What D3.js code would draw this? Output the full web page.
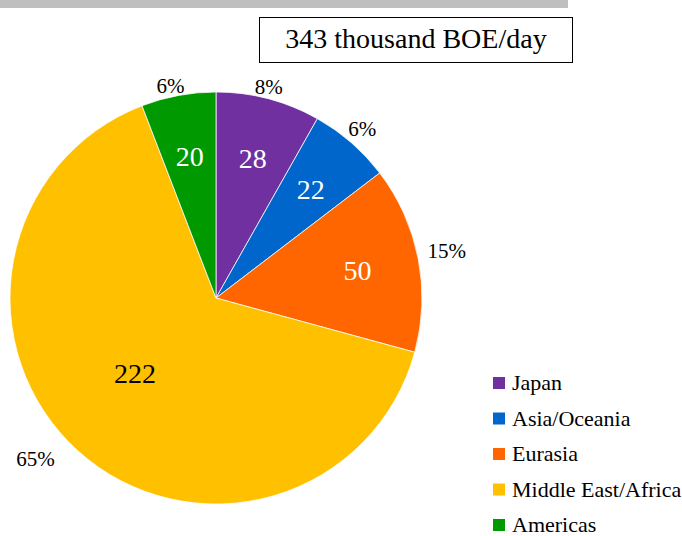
<!DOCTYPE html>
<html>
<head>
<meta charset="utf-8">
<script src="https://cdn.jsdelivr.net/npm/d3@7"></script>
<style>
  body { margin: 0; background: #fff; }
</style>
</head>
<body>
<div id="chart"></div>
<script>
// data
const regions = ["Japan", "Asia/Oceania", "Eurasia", "Middle East/Africa", "Americas"]
const volumes = [28, 22, 50, 222, 20]
const shares = ["8%", "6%", "15%", "65%", "6%"]
const colours = ["#7030A0", "#0066CC", "#FF6600", "#FFC000", "#009900"]
const title = "343 thousand BOE/day"

const FONT = 'Liberation Serif'
const W = 682, H = 536
const svg = d3.select('#chart').append('svg')
    .attr('width', W)
    .attr('height', H)

// grey strip along the top
svg.append('rect')
    .attr('x', 0).attr('y', 0)
    .attr('width', 568).attr('height', 8)
    .attr('fill', '#bfbfbf')

// title box
svg.append('rect')
    .attr('x', 259.5).attr('y', 17.5)
    .attr('width', 313).attr('height', 45)
    .attr('fill', '#fff')
    .attr('stroke', '#000')
    .attr('stroke-width', 1)
svg.append('text')
    .attr('x', 416).attr('y', 48)
    .attr('text-anchor', 'middle')
    .attr('font-family', FONT)
    .attr('font-size', 28)
    .text(title)

const cx = 216, cy = 298, radius = 206
const g = svg.append('g').attr('transform', `translate(${cx},${cy})`)

const data = regions.map((r, i) => ({region: r, value: volumes[i], share: shares[i], colour: colours[i]}))

const pie = d3.pie().sort(null).value(d => d.value)
const arcs = pie(data)

const arc = d3.arc().innerRadius(0).outerRadius(radius)

g.selectAll('path')
    .data(arcs)
    .join('path')
    .attr('d', arc)
    .attr('fill', d => d.data.colour)
    .attr('stroke', '#fff')
    .attr('stroke-width', 0.75)

// the big slice has its labels pushed a bit further round
const isBig = d => d.data.value > 100

// values inside slices
g.selectAll('text.val')
    .data(arcs)
    .join('text')
    .attr('class', 'val')
    .each(function (d) {
        const a = (d.startAngle + d.endAngle) / 2 + (isBig(d) ? 0.09 : 0)
        const k = isBig(d) ? 0.535 : 0.7
        d3.select(this)
            .attr('x', Math.sin(a) * radius * k)
            .attr('y', -Math.cos(a) * radius * k)
    })
    .attr('text-anchor', 'middle')
    .attr('dy', '0.35em')
    .attr('fill', d => isBig(d) ? '#000' : '#fff')
    .attr('font-family', FONT)
    .attr('font-size', 28)
    .text(d => d.data.value)

// percentages outside
g.selectAll('text.pct')
    .data(arcs)
    .join('text')
    .attr('class', 'pct')
    .attr('text-anchor', 'middle')
    .attr('dy', '0.33em')
    .attr('font-family', FONT)
    .attr('font-size', 21)
    .text(d => d.data.share)
    .each(function (d) {
        const a = (d.startAngle + d.endAngle) / 2 + (isBig(d) ? 0.08 : -0.02)
        const w = this.getBBox().width, h = 12
        const r = radius + 3 + 8 * Math.abs(Math.sin(a)) + (isBig(d) ? 14 : 0)
        const x = Math.sin(a) * r + Math.sin(a) * w / 2
        const y = -Math.cos(a) * r - Math.cos(a) * h / 2
        d3.select(this).attr('x', x).attr('y', y)
    })

// legend
const legend = svg.append('g').attr('transform', 'translate(493,383)')
const rows = legend.selectAll('g')
    .data(data)
    .join('g')
    .attr('transform', (d, i) => `translate(0,${i * 35.5})`)
rows.append('rect')
    .attr('x', 0).attr('y', -6)
    .attr('width', 12).attr('height', 12)
    .attr('fill', d => d.colour)
rows.append('text')
    .attr('x', 19).attr('y', 0)
    .attr('dy', '0.33em')
    .attr('font-family', FONT)
    .attr('font-size', 22)
    .text(d => d.region)
</script>
</body>
</html>
